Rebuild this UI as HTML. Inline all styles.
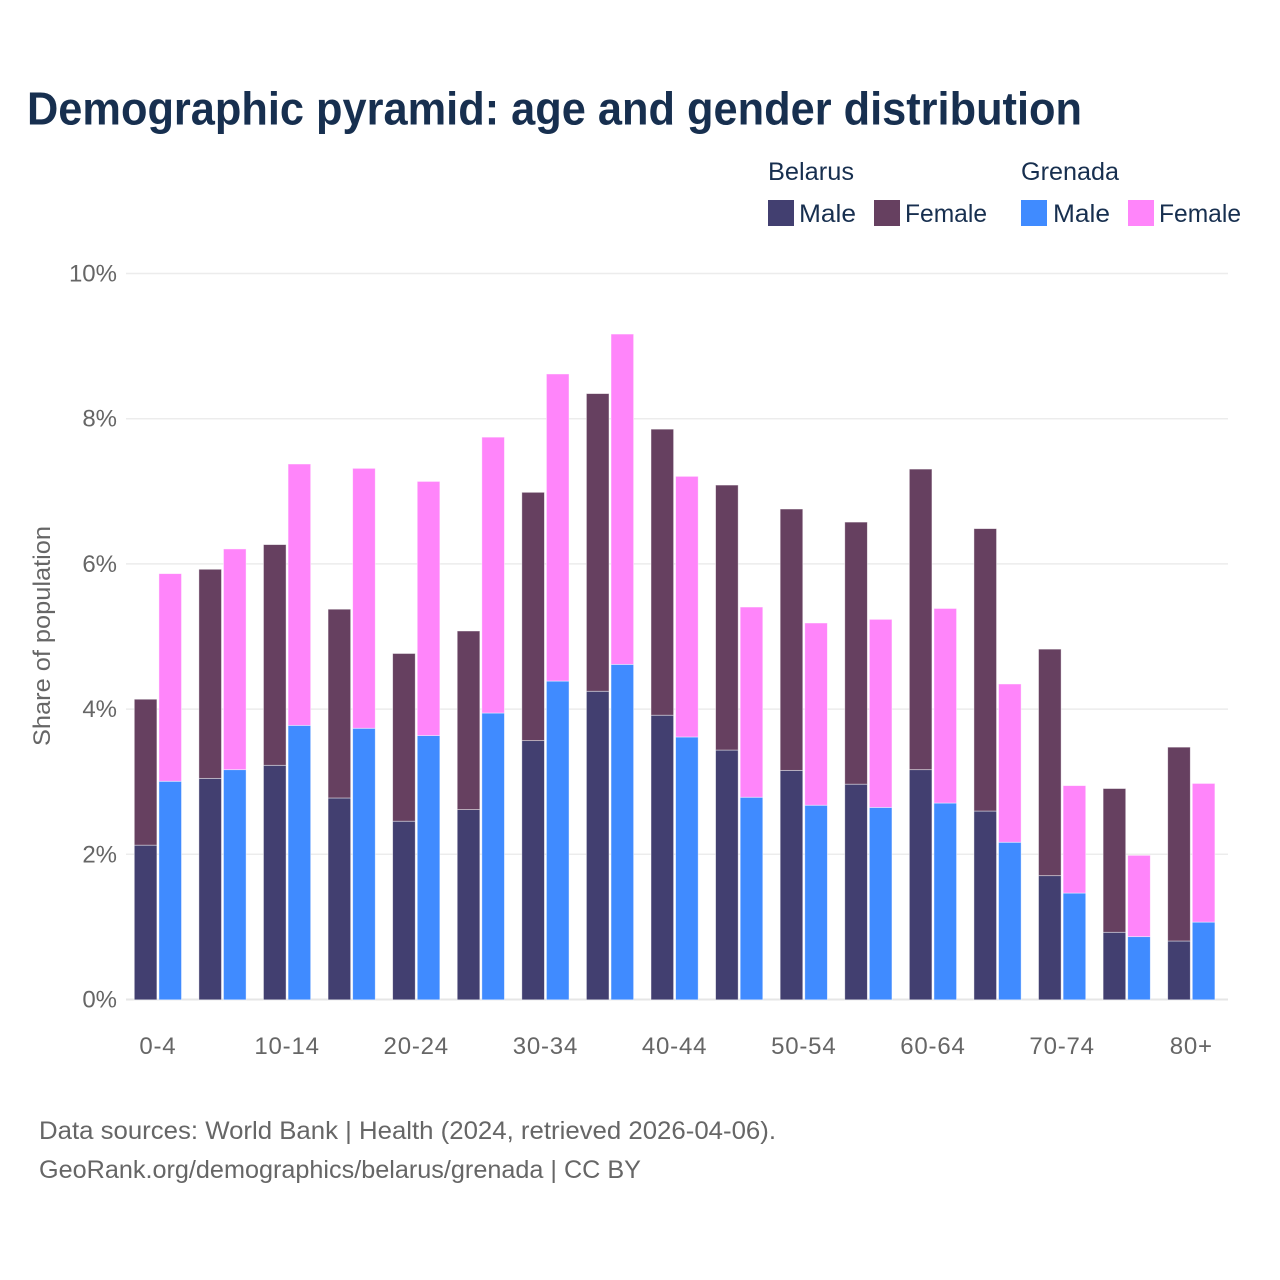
<!DOCTYPE html>
<html lang="en">
<head>
<meta charset="utf-8">
<title>Demographic pyramid</title>
<style>
html,body{margin:0;padding:0;background:#fff;width:1280px;height:1280px;overflow:hidden}
svg{display:block}
text{font-family:"Liberation Sans",sans-serif}
</style>
</head>
<body>
<svg id="chart" width="1280" height="1280" viewBox="0 0 1280 1280" xmlns="http://www.w3.org/2000/svg">
  <rect width="1280" height="1280" fill="#fff"/>
  <text x="27" y="124.5" font-size="46" font-weight="700" fill="#172f4f" textLength="1055" lengthAdjust="spacingAndGlyphs">Demographic pyramid: age and gender distribution</text>
  <g id="legend">
    <text x="768" y="180" font-size="25" fill="#172f4f" textLength="86" lengthAdjust="spacingAndGlyphs">Belarus</text>
    <text x="1021" y="180" font-size="25" fill="#172f4f" textLength="98" lengthAdjust="spacingAndGlyphs">Grenada</text>
    <rect x="768" y="200" width="26" height="26" fill="#423f70"/>
    <text x="799" y="222" font-size="25" fill="#172f4f" textLength="57" lengthAdjust="spacingAndGlyphs">Male</text>
    <rect x="874" y="200" width="26" height="26" fill="#664060"/>
    <text x="905" y="222" font-size="25" fill="#172f4f" textLength="82" lengthAdjust="spacingAndGlyphs">Female</text>
    <rect x="1021" y="200" width="26" height="26" fill="#408bff"/>
    <text x="1053" y="222" font-size="25" fill="#172f4f" textLength="57" lengthAdjust="spacingAndGlyphs">Male</text>
    <rect x="1128" y="200" width="26" height="26" fill="#ff85fa"/>
    <text x="1159" y="222" font-size="25" fill="#172f4f" textLength="82" lengthAdjust="spacingAndGlyphs">Female</text>
  </g>
  <g id="grid"></g>
  <g id="y-ticks"></g>
  <g id="bars"></g>
  <g id="x-ticks"></g>
  <text transform="translate(50,636) rotate(-90)" text-anchor="middle" font-size="24" fill="#666" textLength="220" lengthAdjust="spacingAndGlyphs">Share of population</text>
  <text x="39" y="1139" font-size="25" fill="#666" textLength="737" lengthAdjust="spacingAndGlyphs">Data sources: World Bank | Health (2024, retrieved 2026-04-06).</text>
  <text x="39" y="1178" font-size="25" fill="#666" textLength="602" lengthAdjust="spacingAndGlyphs">GeoRank.org/demographics/belarus/grenada | CC BY</text>
</svg>
<script>
const categories = ["0-4","5-9","10-14","15-19","20-24","25-29","30-34","35-39","40-44","45-49","50-54","55-59","60-64","65-69","70-74","75-79","80+"];
const tickLabels = ["0-4","10-14","20-24","30-34","40-44","50-54","60-64","70-74","80+"];
const yTicks = [0,2,4,6,8,10];
const belarusMale = [2.13,3.05,3.23,2.78,2.46,2.62,3.57,4.25,3.92,3.44,3.16,2.97,3.17,2.60,1.71,0.93,0.81];
const belarusFemale = [2.01,2.88,3.04,2.60,2.31,2.46,3.42,4.10,3.94,3.65,3.60,3.61,4.14,3.89,3.12,1.98,2.67];
const grenadaMale = [3.01,3.17,3.78,3.74,3.64,3.95,4.39,4.62,3.62,2.79,2.68,2.65,2.71,2.17,1.47,0.87,1.07];
const grenadaFemale = [2.86,3.04,3.60,3.58,3.50,3.80,4.23,4.55,3.59,2.62,2.51,2.59,2.68,2.18,1.48,1.12,1.91];

const NS = 'http://www.w3.org/2000/svg';
const xCenter = i => 157.9 + i * (1191.3 - 157.9) / (categories.length - 1);
const yPos = v => 999.5 - v * 72.6;

function make(tag, attrs, parent) {
  const el = document.createElementNS(NS, tag);
  for (const k in attrs) el.setAttribute(k, attrs[k]);
  parent.appendChild(el);
  return el;
}

const gridG = document.getElementById('grid');
const yG = document.getElementById('y-ticks');
yTicks.forEach(t => {
  const line = make('line', {x1:126, x2:1228, y1:yPos(t), y2:yPos(t), stroke: t === 0 ? '#e6e6e6' : '#ececec', 'stroke-width': t === 0 ? 2 : 1.5}, gridG);
  
  
  const label = make('text', {x:117, y:yPos(t) + 8, 'text-anchor':'end', 'font-size':24, fill:'#666'}, yG);
  
  
  label.textContent = t + '%';
});

const barsG = document.getElementById('bars');
const barWidth = 22.6;
function drawBar(i, offset, base, value, color, name) {
  const top = yPos(base + value) + 0.3;
  const bottom = yPos(base) + 0.3;
  const rect = make('rect', {x:xCenter(i) + offset - barWidth / 2, y:top, width:barWidth, height:bottom - top, fill:color, stroke:'#fff', 'stroke-opacity':0.55, 'stroke-width':0.8}, barsG);
  
  
}
categories.forEach((c, i) => {
  drawBar(i, -12.3, 0, belarusMale[i], '#423f70', 'bar-belarus-male');
  drawBar(i, -12.3, belarusMale[i], belarusFemale[i], '#664060', 'bar-belarus-female');
  drawBar(i, 12.3, 0, grenadaMale[i], '#408bff', 'bar-grenada-male');
  drawBar(i, 12.3, grenadaMale[i], grenadaFemale[i], '#ff85fa', 'bar-grenada-female');
});

const xG = document.getElementById('x-ticks');
tickLabels.forEach(t => {
  const label = make('text', {x:xCenter(categories.indexOf(t)), y:1054, 'text-anchor':'middle', 'font-size':24, 'letter-spacing':0.8, fill:'#666'}, xG);
  
  
  label.textContent = t;
});
</script>
</body>
</html>
